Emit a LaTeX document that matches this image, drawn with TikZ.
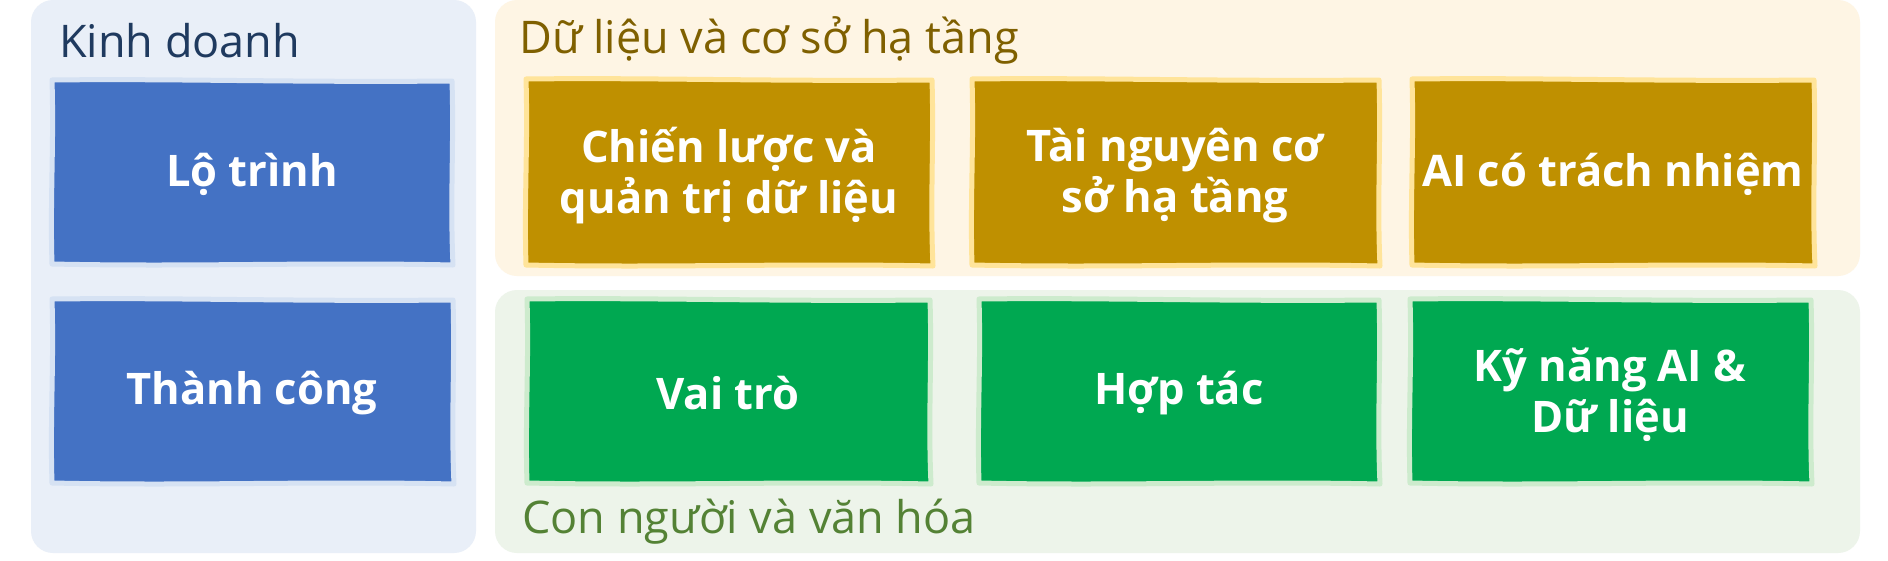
\documentclass[tikz,border=0pt]{standalone}
\usepackage{fontspec}
\setmainfont{Open Sans}
\definecolor{pblue}{HTML}{E9EFF8}
\definecolor{pgold}{HTML}{FEF5E4}
\definecolor{pgreen}{HTML}{EDF4EA}
\definecolor{bblue}{HTML}{4472C4}
\definecolor{bgold}{HTML}{BF9000}
\definecolor{bgreen}{HTML}{00A851}
\definecolor{hblue}{HTML}{D6E2F3}
\definecolor{hgold}{HTML}{FFE49A}
\definecolor{hgreen}{HTML}{CDEBCD}
\definecolor{tblue}{HTML}{1F3A5F}
\definecolor{tgold}{HTML}{7F6000}
\definecolor{tgreen}{HTML}{548235}
\newcommand\wobbox[6]{%
  \draw[fill=#5, draw=#6, line width=5pt, line join=round]
    (#1,#2) .. controls ({#1+0.3*(#3-#1)},{#2-1.5}) and ({#1+0.6*(#3-#1)},{#2+2.5}) .. (#3,{#2+1})
    .. controls ({#3+2},{#2+0.35*(#4-#2)}) and ({#3-2},{#2+0.65*(#4-#2)}) .. ({#3+1},#4)
    .. controls ({#1+0.65*(#3-#1)},{#4-3}) and ({#1+0.35*(#3-#1)},{#4+2}) .. (#1,{#4-1})
    .. controls ({#1-2},{#2+0.65*(#4-#2)}) and ({#1+2},{#2+0.35*(#4-#2)}) .. cycle;}
\begin{document}
\begin{tikzpicture}[x=1pt,y=-1pt,
  panel/.style={rounded corners=22pt},
  title/.style={anchor=base west, inner sep=0pt, font=\fontsize{45}{52}\selectfont},
  boxtext/.style={text=white, align=center, inner sep=0pt, font=\fontsize{43.5}{51}\selectfont\bfseries}]
\useasboundingbox (0,0) rectangle (1888,560);
\fill[white] (0,0) rectangle (1888,560);
% panels
\fill[pblue, panel] (31,0) rectangle (476,553);
\fill[pgold, panel] (495,0) rectangle (1860,276);
\fill[pgreen, panel] (495,290) rectangle (1860,553);
% titles
\node[title, text=tblue] (tbiz) at (59,57) {Kinh doanh};
\node[title, text=tgold] (tdata) at (519,53) {Dữ liệu và cơ sở hạ tầng};
\node[title, text=tgreen] (tppl) at (522,533) {Con người và văn hóa};
% blue boxes
\wobbox{52}{80}{452}{265}{bblue}{hblue}
\wobbox{52}{299}{453}{484}{bblue}{hblue}
\node[boxtext] (b1) at (252,174) {Lộ trình};
\node[boxtext] (b2) at (252,393) {Thành công};
% gold boxes
\wobbox{526}{79}{932}{266}{bgold}{hgold}
\wobbox{972}{79}{1379}{266}{bgold}{hgold}
\wobbox{1412}{79}{1814}{266}{bgold}{hgold}
\node[boxtext] (g1) at (729,176) {Chiến lược và\\quản trị dữ liệu};
\node[boxtext] (g2) at (1175,176) {Tài nguyên cơ\\sở hạ tầng};
\node[boxtext] (g3) at (1613,174) {AI có trách nhiệm};
% green boxes
\wobbox{527}{299}{930}{484}{bgreen}{hgreen}
\wobbox{979}{299}{1379}{484}{bgreen}{hgreen}
\wobbox{1410}{299}{1811}{484}{bgreen}{hgreen}
\node[boxtext] (n1) at (728,393) {Vai trò};
\node[boxtext] (n2) at (1179,393) {Hợp tác};
\node[boxtext] (n3) at (1610,395) {Kỹ năng AI \&\\Dữ liệu};
\end{tikzpicture}
\end{document}
